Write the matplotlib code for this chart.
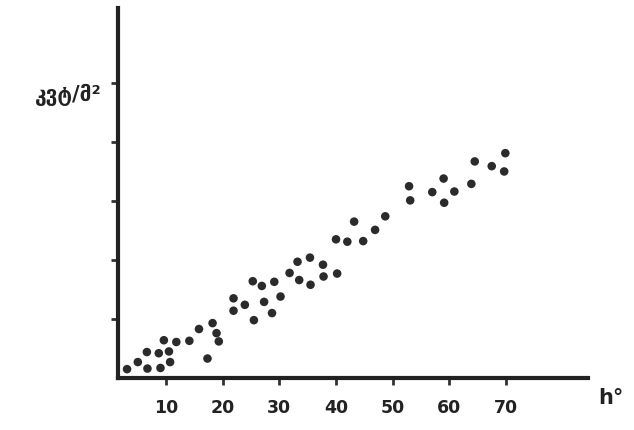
import matplotlib
matplotlib.use("Agg")
import matplotlib.pyplot as plt

# Data (h in degrees, power in tick units)
h_deg = [3.1, 5.0, 6.7, 6.6, 8.7, 9.0, 10.5, 10.7, 9.6, 11.8, 14.1, 15.8, 17.3,
         18.2, 18.9, 19.3, 21.9, 21.9, 23.9, 25.5, 25.3, 26.9, 27.3, 28.7, 29.1,
         30.2, 31.8, 33.2, 33.5, 35.4, 35.5, 37.7, 37.8, 40.2, 40.0, 42.0, 43.2,
         44.8, 46.9, 48.7, 52.9, 53.1, 57.0, 59.0, 59.1, 60.9, 63.9, 64.5, 67.5,
         69.7, 69.9]
power = [0.15, 0.27, 0.16, 0.44, 0.42, 0.17, 0.45, 0.27, 0.64, 0.61, 0.63, 0.83,
         0.33, 0.93, 0.76, 0.62, 1.35, 1.14, 1.24, 0.98, 1.64, 1.56, 1.29, 1.10,
         1.63, 1.38, 1.78, 1.97, 1.66, 2.04, 1.58, 1.92, 1.72, 1.77, 2.35, 2.31,
         2.65, 2.32, 2.51, 2.74, 3.25, 3.01, 3.15, 3.38, 2.97, 3.16, 3.29, 3.67,
         3.59, 3.50, 3.81]

x_ticks = [10, 20, 30, 40, 50, 60, 70]
x_tick_labels = ["10", "20", "30", "40", "50", "60", "70"]
y_ticks = [1, 2, 3, 4, 5]
y_label = "კვტ/მ²"
x_label = "h°"

fig = plt.figure(figsize=(6.34, 4.30), dpi=100)
ax = fig.add_axes([118/634, 52/430, 470/634, 370/430])

ax.scatter(h_deg, power, s=38, color="#2b2b2b", edgecolors="none", zorder=3)

ax.set_xlim(1.5, 84.5)
ax.set_ylim(0, 6.27)

for side in ("top", "right"):
    ax.spines[side].set_visible(False)
for side in ("left", "bottom"):
    ax.spines[side].set_linewidth(3)
    ax.spines[side].set_color("#222222")

ax.set_xticks(x_ticks)
ax.set_xticklabels(x_tick_labels, fontsize=12.5, fontweight="bold", color="#222222")
ax.set_yticks(y_ticks)
ax.set_yticklabels([])
ax.tick_params(axis="both", direction="out", length=5, width=2, color="#333333")
ax.tick_params(axis="x", pad=10)

fig.text(35/634, 1 - 95/430, y_label, fontsize=15, fontweight="bold",
         color="#222222", va="center", ha="left", family=["DejaVu Sans"])
fig.text(598/634, 1 - 398/430, x_label, fontsize=15, fontweight="bold",
         color="#222222", va="center", ha="left")

fig.savefig("out.png", dpi=100, facecolor="white")
